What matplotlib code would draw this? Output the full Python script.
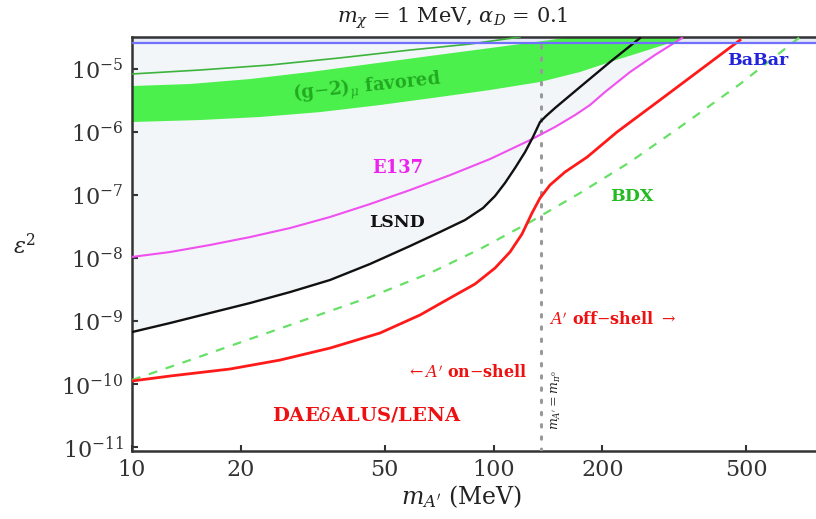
import numpy as np
import matplotlib
matplotlib.use("Agg")
import matplotlib.pyplot as plt
from matplotlib.ticker import FixedLocator, FixedFormatter, LogFormatterMathtext, NullLocator

plt.rcParams['font.family'] = ['DejaVu Serif']
plt.rcParams['mathtext.fontset'] = 'dejavuserif'

# ---------------- data ----------------
lsnd_x = [10, 12.74, 16.43, 21.20, 27.35, 35.29, 45.52, 58.73, 71.10, 83.35, 93.48, 100.9,
          107.5, 114.6, 122.2, 128.5, 134.4, 139.6, 147.8, 173.4, 209.8, 254.0]
lsnd_y = [6.68e-10, 9.29e-10, 1.34e-9, 1.93e-9, 2.88e-9, 4.48e-9, 8.04e-9, 1.55e-8, 2.59e-8,
          4.01e-8, 6.22e-8, 9.64e-8, 1.55e-7, 2.68e-7, 4.82e-7, 8.34e-7, 1.44e-6, 1.79e-6,
          2.40e-6, 5.18e-6, 1.29e-5, 3.10e-5]

e137_x = [10, 12.74, 16.43, 21.20, 27.35, 35.29, 45.52, 58.73, 75.79, 97.80, 126.2, 147.8,
          168.0, 184.7, 203.3, 238.4, 279.4, 331.9]
e137_y = [1.04e-8, 1.245e-8, 1.61e-8, 2.15e-8, 2.99e-8, 4.48e-8, 7.19e-8, 1.20e-7, 2.07e-7,
          3.73e-7, 7.46e-7, 1.20e-6, 1.86e-6, 2.68e-6, 4.32e-6, 8.96e-6, 1.67e-5, 3.10e-5]

daedalus_x = [10, 12.74, 18.66, 25.66, 35.29, 48.51, 62.58, 75.79, 88.85, 100.9, 111.0,
              119.8, 127.7, 134.4, 143.2, 157.6, 181.5, 219.4, 288.5, 372.3, 480.2]
daedalus_y = [1.117e-10, 1.34e-10, 1.73e-10, 2.40e-10, 3.72e-10, 6.45e-10, 1.245e-9, 2.32e-9,
              3.87e-9, 6.93e-9, 1.245e-8, 2.40e-8, 5.18e-8, 8.96e-8, 1.44e-7, 2.32e-7,
              4.01e-7, 1.0e-6, 3.22e-6, 9.64e-6, 2.88e-5]

bdx_x = [10, 14.47, 21.20, 31.07, 45.52, 66.71, 91.71, 126.1, 173.4, 238.4, 327.7, 480.2, 703.9]
bdx_y = [1.157e-10, 2.40e-10, 5.18e-10, 1.117e-9, 2.40e-9, 5.78e-9, 1.39e-8, 3.72e-8,
         1.076e-7, 3.34e-7, 1.20e-6, 5.78e-6, 3.22e-5]

g2_low_x = [10, 15.42, 22.59, 33.11, 48.51, 71.10, 97.74, 134.4, 173.4, 213.9, 262.2, 307.4, 372.3]
g2_low_y = [1.44e-6, 1.55e-6, 1.73e-6, 2.07e-6, 2.68e-6, 3.60e-6, 4.64e-6, 6.22e-6, 8.96e-6,
            1.34e-5, 1.93e-5, 2.59e-5, 3.60e-5]
g2_up_x = [10, 14.47, 21.20, 31.07, 45.52, 66.71, 97.74, 143.2, 209.8]
g2_up_y = [5.37e-6, 5.78e-6, 6.93e-6, 8.96e-6, 1.20e-5, 1.61e-5, 2.15e-5, 2.88e-5, 4.01e-5]

g2_line_x = [10, 15.42, 24.07, 37.58, 58.73, 86.03, 118.3]
g2_line_y = [8.34e-6, 9.64e-6, 1.157e-5, 1.50e-5, 2.0e-5, 2.49e-5, 3.22e-5]

babar_y = 2.57e-5
m_pi0 = 135.0

x_ticks = [10, 20, 50, 100, 200, 500]
x_ticklabels = ['10', '20', '50', '100', '200', '500']
y_ticks = [1e-11, 1e-10, 1e-9, 1e-8, 1e-7, 1e-6, 1e-5]

xmin, xmax = 10, 779
ymin, ymax = 10**-11.063, 10**-4.492

# ---------------- figure ----------------
fig = plt.figure(figsize=(8.16, 5.19), dpi=100)
ax = fig.add_axes([132/816, 68/519, 684/816, 414/519])
ax.set_xscale('log')
ax.set_yscale('log')
ax.set_xlim(xmin, xmax)
ax.set_ylim(ymin, ymax)

# excluded region: above the lower of LSND / E137
lsnd_x_a = np.array(lsnd_x); lsnd_y_a = np.array(lsnd_y)
e137_x_a = np.array(e137_x); e137_y_a = np.array(e137_y)
m1 = lsnd_x_a <= 126
m2 = e137_x_a > 126
bx = np.concatenate([lsnd_x_a[m1], e137_x_a[m2]])
by = np.concatenate([lsnd_y_a[m1], e137_y_a[m2]])
ax.fill_between(bx, by, ymax, color='#f2f6f8', lw=0, zorder=0)

# BaBar
ax.axhspan(babar_y, ymax, color='#e6e9f6', lw=0, zorder=1)
ax.axhline(babar_y, color='#7070ff', lw=1.6, zorder=6)

# g-2 band
ax.fill(np.concatenate([g2_low_x, g2_up_x[::-1]]),
        np.concatenate([g2_low_y, g2_up_y[::-1]]),
        color='#4cf04c', lw=0, zorder=2)
ax.plot(g2_line_x, g2_line_y, color='#3cb43c', lw=1.2, zorder=3)

# curves
ax.plot(bdx_x, bdx_y, color='#66e066', lw=1.6, ls=(0, (4, 4)), zorder=4)
ax.plot(e137_x, e137_y, color='#f050f0', lw=1.5, zorder=4)
ax.plot(lsnd_x, lsnd_y, color='#111111', lw=1.7, zorder=5)
ax.plot(daedalus_x, daedalus_y, color='#ff1a1a', lw=2.0, zorder=5)

ax.axvline(m_pi0, color='#999999', lw=2.2, ls=(0, (0.8, 3.2)), dash_capstyle='round', zorder=3)

# labels
ax.text(44.7, 5.0e-6, r'(g$-$2)$_\mu$ favored', color='#22aa22', fontsize=13,
        fontweight='bold', rotation=6, ha='center', va='center', zorder=7)
ax.text(54.4, 2.68e-7, 'E137', color='#ee22ee', fontsize=13, fontweight='bold',
        ha='center', va='center', zorder=7)
ax.text(54.1, 3.6e-8, 'LSND', color='#111111', fontsize=12.5, fontweight='bold',
        ha='center', va='center', zorder=7)
ax.text(241, 9.6e-8, 'BDX', color='#22bb22', fontsize=12.5, fontweight='bold',
        ha='center', va='center', zorder=7)
ax.text(538, 1.34e-5, 'BaBar', color='#2222dd', fontsize=12.5, fontweight='bold',
        ha='center', va='center', zorder=7)
ax.text(214, 1.04e-9, r"$A'$ off$-$shell $\rightarrow$", color='#ee1111', fontsize=11.5,
        fontweight='bold', ha='center', va='center', zorder=7)
ax.text(84.4, 1.5e-10, r"$\leftarrow A'$ on$-$shell", color='#ee1111', fontsize=11.5,
        fontweight='bold', ha='center', va='center', zorder=7)
ax.text(44.7, 3.2e-11, r'DAE$\delta$ALUS/LENA', color='#ee1111', fontsize=14,
        fontweight='bold', ha='center', va='center', zorder=7)
ax.text(149, 5.6e-11, r"$m_{A'} = m_{\pi^0}$", color='#222222', fontsize=9,
        rotation=90, ha='center', va='center', zorder=7)

# axes styling
ax.xaxis.set_major_locator(FixedLocator(x_ticks))
ax.xaxis.set_major_formatter(FixedFormatter(x_ticklabels))
ax.xaxis.set_minor_locator(NullLocator())
ax.yaxis.set_major_locator(FixedLocator(y_ticks))
ax.yaxis.set_major_formatter(LogFormatterMathtext())
ax.yaxis.set_minor_locator(NullLocator())
ax.tick_params(direction='in', length=4, width=1.5, labelsize=16, colors='#333333',
               pad=6, top=False, right=False)
for s in ['left', 'bottom', 'top']:
    ax.spines[s].set_linewidth(1.8)
    ax.spines[s].set_color('#333333')
ax.spines['right'].set_visible(False)

fig.text(453/816, 1 - 18/519, r'$m_\chi$ = 1 MeV, $\alpha_D$ = 0.1', fontsize=15,
         ha='center', va='center', color='#222222')
fig.text(462/816, 1 - 497/519, r"$m_{A'}$ (MeV)", fontsize=17, ha='center', va='center',
         color='#222222')
fig.text(25/816, 1 - 247/519, r'$\epsilon^2$', fontsize=16, ha='center', va='center',
         color='#222222')

fig.savefig('out.png', dpi=100)
